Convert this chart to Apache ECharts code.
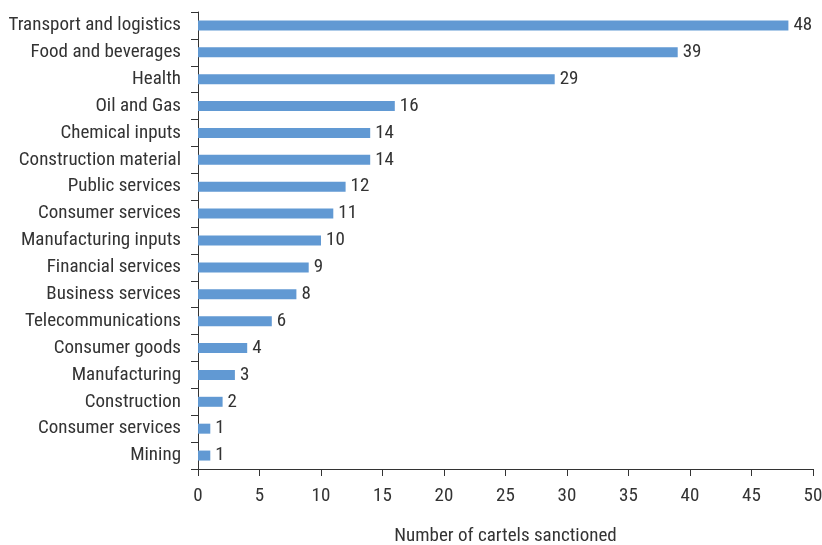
<!DOCTYPE html>
<html>
<head>
<meta charset="utf-8">
<script src="https://cdn.jsdelivr.net/npm/echarts@6/dist/echarts.min.js"></script>
<style>
  html, body { margin: 0; padding: 0; background: #fff; }
  #chart { width: 822px; height: 545px; }
</style>
</head>
<body>
<div id="chart"></div>
<script>
// sectors, top to bottom
const categories = [
  'Transport and logistics', 'Food and beverages', 'Health', 'Oil and Gas',
  'Chemical inputs', 'Construction material', 'Public services', 'Consumer services',
  'Manufacturing inputs', 'Financial services', 'Business services', 'Telecommunications',
  'Consumer goods', 'Manufacturing', 'Construction', 'Consumer services', 'Mining'
]
const cartels = [48, 39, 29, 16, 14, 14, 12, 11, 10, 9, 8, 6, 4, 3, 2, 1, 1]
const xTicks = [0, 5, 10, 15, 20, 25, 30, 35, 40, 45, 50]

const font = '"Liberation Sans Narrow", "Roboto Condensed", "Liberation Sans", sans-serif'
const textColor = '#333'

const chart = echarts.init(document.getElementById('chart'))
const option = {
  animation: false,
  grid: { left: 198, right: 9, top: 12, bottom: 76, outerBoundsMode: 'none', containLabel: false },
  xAxis: {
    type: 'value',
    min: xTicks[0],
    max: xTicks[xTicks.length - 1],
    interval: 5,
    name: 'Number of cartels sanctioned',
    nameLocation: 'middle',
    nameGap: 58,
    nameTextStyle: { fontFamily: font, fontSize: 19, color: textColor },
    axisLine: { show: true, lineStyle: { color: '#333', width: 1 } },
    axisTick: { show: true, length: 7, lineStyle: { color: '#333' } },
    splitLine: { show: false },
    axisLabel: { fontFamily: font, fontSize: 19, color: textColor, margin: 18 }
  },
  yAxis: {
    type: 'category',
    inverse: true,
    data: categories,
    axisLine: { show: true, lineStyle: { color: '#333', width: 1 } },
    axisTick: { show: true, length: 7, inside: false, lineStyle: { color: '#333' } },
    axisLabel: { fontFamily: font, fontSize: 19, color: textColor, margin: 17 }
  },
  series: [{
    type: 'bar',
    data: cartels,
    barWidth: 10,
    itemStyle: { color: '#6199d3' },
    label: {
      show: true,
      position: 'right',
      distance: 5,
      fontFamily: font,
      fontSize: 19,
      color: textColor
    }
  }]
}
chart.setOption(option)
</script>
</body>
</html>
